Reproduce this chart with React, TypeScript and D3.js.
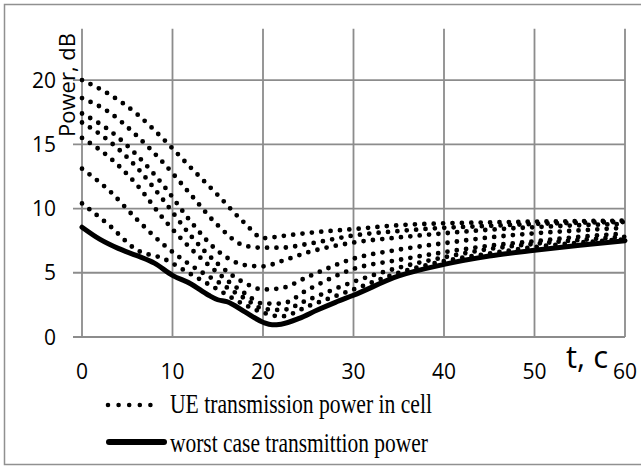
import React, { useEffect, useRef } from 'react';
import * as d3 from 'd3';

// time points shared by the dotted UE curves (s)
const ueTimes = [0, 3, 6, 9, 12, 15, 18, 20, 22, 25, 30, 35, 40, 45, 50, 55, 60];

// UE transmission power in cell, dB (one array per UE)
const ueA = [20, 18.9, 17.4, 15.4, 13.2, 11.05, 8.85, 7.7, 7.85, 8.1, 8.4, 8.7, 8.85, 8.92, 8.98, 9.02, 9.05];
const ueB = [18.6, 17.5, 15.7, 13.55, 11.1, 8.7, 7.1, 6.95, 6.95, 7.25, 7.9, 8.25, 8.5, 8.65, 8.8, 8.9, 8.95];
const ueC = [17.4, 16.1, 14.2, 11.8, 9.0, 6.7, 5.6, 5.5, 5.9, 6.6, 7.35, 7.75, 8.07, 8.35, 8.55, 8.7, 8.8];
const ueD = [16.7, 15.25, 13.25, 10.65, 7.9, 5.7, 4.2, 3.7, 3.8, 4.7, 6.1, 6.8, 7.3, 7.75, 8.07, 8.3, 8.5];
const ueE = [15.5, 14.0, 11.9, 9.2, 6.9, 5.0, 3.4, 2.6, 2.6, 3.7, 5.3, 6.0, 6.6, 7.1, 7.45, 7.8, 8.05];
const ueF = [13.1, 11.4, 9.2, 7.2, 5.6, 4.3, 3.0, 2.2, 2.1, 2.9, 4.3, 5.4, 6.2, 6.85, 7.25, 7.55, 7.8];
const ueG = [10.4, 8.7, 6.8, 6.1, 4.9, 3.7, 2.5, 1.9, 1.6, 2.4, 3.7, 5.0, 5.9, 6.5, 7.0, 7.35, 7.6];

// worst case transmittion power
const worstTimes = [0, 2, 4, 6, 8, 10, 12, 14, 15, 16, 18, 20, 21, 22, 24, 26, 28, 30, 35, 40, 45, 50, 55, 60];
const worstValues = [8.55, 7.6, 6.9, 6.35, 5.75, 4.8, 4.15, 3.25, 2.9, 2.75, 1.95, 1.15, 0.95, 1.0, 1.45, 2.1, 2.7, 3.25, 4.75, 5.65, 6.3, 6.75, 7.15, 7.5];

const xTicks = [0, 10, 20, 30, 40, 50, 60];
const yTicks = [0, 5, 10, 15, 20];

const legendLabels = ['UE transmission power in cell', 'worst case transmittion power'];

const App = () => {
  const svgRef = useRef<SVGSVGElement>(null);

  useEffect(() => {
    const svgWidth = 641;
    const svgHeight = 466;
    const left = 82, right = 625, top = 28.7, bottom = 337;
    const grid = '#8c8c8c';
    const sans = '"Open Sans", "DejaVu Sans", sans-serif';
    const serif = '"Liberation Serif", "Times New Roman", serif';

    const svg = d3.select(svgRef.current)
      .attr('width', svgWidth)
      .attr('height', svgHeight)
      .html('');

    svg.append('rect').attr('width', svgWidth).attr('height', svgHeight).attr('fill', '#fff');

    // outer frame (left, top, bottom)
    svg.append('path')
      .attr('d', `M${svgWidth},4.5H4.5V464.5H${svgWidth}`)
      .attr('fill', 'none')
      .attr('stroke', '#909090')
      .attr('stroke-width', 1.5);

    const x = d3.scaleLinear().domain([0, 60]).range([left, right]);
    const y = d3.scaleLinear().domain([0, 24]).range([bottom, top]);

    // gridlines
    svg.append('g').selectAll('line')
      .data(xTicks)
      .enter().append('line')
      .attr('x1', d => x(d)).attr('x2', d => x(d))
      .attr('y1', top).attr('y2', bottom)
      .attr('stroke', grid).attr('stroke-width', 1.8);

    svg.append('g').selectAll('line')
      .data(yTicks)
      .enter().append('line')
      .attr('x1', left - 9).attr('x2', right)
      .attr('y1', d => y(d)).attr('y2', d => y(d))
      .attr('stroke', grid).attr('stroke-width', 1.8);

    // tick labels
    svg.append('g').selectAll('text')
      .data(yTicks)
      .enter().append('text')
      .attr('x', 56).attr('y', d => y(d))
      .attr('dy', '0.36em')
      .attr('text-anchor', 'end')
      .style('font-family', sans).style('font-size', '21px')
      .attr('fill', '#000')
      .text(d => d);

    svg.append('g').selectAll('text')
      .data(xTicks)
      .enter().append('text')
      .attr('x', d => x(d)).attr('y', 379)
      .attr('text-anchor', 'middle')
      .style('font-family', sans).style('font-size', '21px')
      .attr('fill', '#000')
      .text(d => d);

    // axis titles
    svg.append('text')
      .attr('transform', 'translate(75,85) rotate(-90)')
      .attr('text-anchor', 'middle')
      .style('font-family', sans).style('font-size', '22px')
      .attr('fill', '#000')
      .text('Power, dB');

    svg.append('text')
      .attr('x', 608).attr('y', 368)
      .attr('text-anchor', 'end')
      .style('font-family', sans).style('font-size', '31px')
      .attr('fill', '#000')
      .text('t, c');

    const ueSeries = [ueA, ueB, ueC, ueD, ueE, ueF, ueG];
    const line = d3.line<[number, number]>()
      .x(d => x(d[0]))
      .y(d => y(d[1]))
      .curve(d3.curveMonotoneX);

    svg.append('g').selectAll('path')
      .data(ueSeries)
      .enter().append('path')
      .attr('d', vals => line(vals.map((v, i) => [ueTimes[i], v] as [number, number])))
      .attr('fill', 'none')
      .attr('stroke', '#000')
      .attr('stroke-width', 4.8)
      .attr('stroke-linecap', 'round')
      .attr('stroke-dasharray', '0 9.4');

    svg.append('path')
      .attr('d', line(worstValues.map((v, i) => [worstTimes[i], v] as [number, number])))
      .attr('fill', 'none')
      .attr('stroke', '#000')
      .attr('stroke-width', 5)
      .attr('stroke-linecap', 'round');

    // legend
    const legend = svg.append('g');
    legend.append('line')
      .attr('x1', 108).attr('x2', 161)
      .attr('y1', 405).attr('y2', 405)
      .attr('stroke', '#000').attr('stroke-width', 4.6)
      .attr('stroke-linecap', 'round')
      .attr('stroke-dasharray', '0 10.6');
    legend.append('line')
      .attr('x1', 109).attr('x2', 164)
      .attr('y1', 442).attr('y2', 442)
      .attr('stroke', '#000').attr('stroke-width', 6)
      .attr('stroke-linecap', 'round');

    legend.selectAll('.legend-text')
      .data(legendLabels)
      .enter().append('text')
      .attr('class', 'legend-text')
      .attr('x', 170)
      .attr('y', (d, i) => (i === 0 ? 413 : 452))
      .attr('textLength', (d, i) => (i === 0 ? 262 : 258))
      .attr('lengthAdjust', 'spacingAndGlyphs')
      .style('font-family', serif).style('font-size', '27px')
      .attr('fill', '#000')
      .text(d => d);
  }, []);

  return <svg ref={svgRef} style={{ position: 'absolute', left: 0, top: 0 }} />;
};

export default App;
